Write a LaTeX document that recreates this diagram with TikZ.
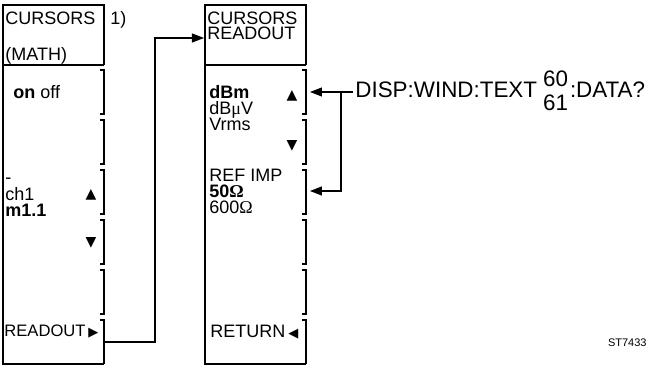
\documentclass[tikz,border=0pt]{standalone}
\usepackage{fontspec}
\setmainfont{Liberation Sans}
\newfontfamily\symbfont{DejaVu Sans}
\newfontfamily\greekfont{Liberation Serif}
\usetikzlibrary{arrows.meta}

\newcommand{\tri}[1]{{\symbfont\fontsize{6.5}{7}\selectfont #1}}

\begin{document}
\begin{tikzpicture}[x=0.5pt,y=-0.5pt]
\tikzset{
  menutext/.style={anchor=base west,inner sep=0pt,font=\fontsize{9}{10}\selectfont},
  arrowmark/.style={inner sep=0pt,font=\symbfont\fontsize{7}{7}\selectfont},
  frame/.style={line width=0.75pt},
  softkey/.style={line width=0.85pt},
  link/.style={-{Triangle[length=6pt,width=4.5pt]},line width=0.55pt}
}
\useasboundingbox (0,0) rectangle (650,367);
% menu boxes with soft key brackets
\foreach \bx in {3,205} {
  \draw[frame] (\bx+101,65) -- (\bx+101,5) -- (\bx,5) -- (\bx,364) -- (\bx+101,364);
  \draw[frame] (\bx,65) -- (\bx+101,65);
  \foreach \ky in {70,120,170,220,270}
    \draw[softkey] (\bx+97,\ky) -- (\bx+101,\ky) -- (\bx+101,\ky+44) -- (\bx+97,\ky+44);
  \draw[softkey] (\bx+97,320) -- (\bx+101,320) -- (\bx+101,364);
}
% left menu
\node[menutext] (l_head1) at (5,25) {CURSORS};
\node[menutext] (l_note) at (110,25) {1)};
\node[menutext] (l_head2) at (5,61) {(MATH)};
\node[menutext] (l_onoff) at (13,99) {\textbf{on} off};
\node[menutext] (l_dash) at (5,184) {-};
\node[menutext] (l_ch) at (5,201) {ch1};
\node[menutext] (l_m) at (5,217) {\textbf{m1.1}};
\node[arrowmark] (l_up) at (91,195) {▲};
\node[arrowmark] (l_down) at (91,243) {▼};
\node[menutext,font=\fontsize{8.3}{9}\selectfont] (l_readout) at (4,337) {READOUT\,\tri{▶}};
% right menu
\node[menutext] (r_head1) at (207,25) {CURSORS};
\node[menutext] (r_head2) at (207,40) {READOUT};
\node[menutext] (r_dbm) at (209,99) {\textbf{dBm}};
\node[menutext] (r_dbuv) at (209,115) {dB{\greekfont μ}V};
\node[menutext] (r_vrms) at (209,131) {Vrms};
\node[arrowmark] (r_up) at (292,96) {▲};
\node[arrowmark] (r_down) at (292,146) {▼};
\node[menutext] (r_refimp) at (209,182) {REF IMP};
\node[menutext] (r_50) at (209,198) {\textbf{50{\greekfont Ω}}};
\node[menutext] (r_600) at (209,214) {600{\greekfont Ω}};
\node[menutext] (r_return) at (210,338) {RETURN\,\tri{◀}};
% command text
\node[menutext,font=\fontsize{11.2}{12}\selectfont] (n_cmd) at (355,98)
  {DISP:WIND:TEXT\hspace{3pt}\makebox[0pt][l]{\raisebox{5.5pt}{60}}\raisebox{-6.5pt}{61}\hspace{1pt}:DATA?};
\node[anchor=base east,inner sep=0pt,font=\fontsize{5.5}{6}\selectfont] (n_id) at (647,347) {ST7433};
% connectors
\coordinate (l_keyout) at (104,342);
\coordinate (l_bend) at (155,342);
\coordinate (r_headin) at (204,38);
\coordinate (n_cmdout) at (353,92);
\coordinate (n_split) at (341,92);
\coordinate (r_key1) at (310,92);
\coordinate (r_key3) at (310,191);
\draw[link] (l_keyout) -- (l_bend) |- (r_headin);
\draw[link] (n_cmdout) -- (r_key1);
\draw[link] (n_split) |- (r_key3);
\end{tikzpicture}
\end{document}
